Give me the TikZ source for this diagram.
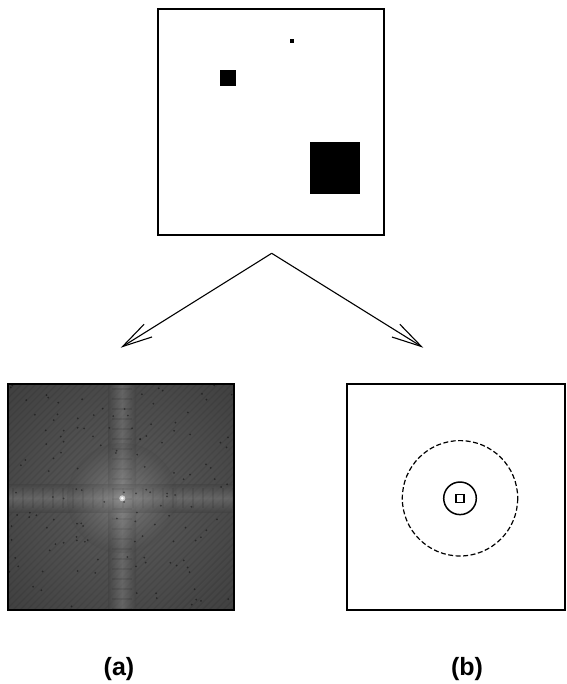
\documentclass[tikz,border=0pt]{standalone}
\usepackage{fontspec}
\setmainfont{Liberation Sans}
\usetikzlibrary{arrows.meta}
\definecolor{spbg}{RGB}{64,64,64}
\definecolor{spmid}{RGB}{92,92,92}
\definecolor{spband}{RGB}{128,128,128}
\tikzset{
  frame/.style={draw=black, line width=1.6pt, inner sep=0pt, fill=white},
  blk/.style={fill=black},
  splitarrow/.style={line width=1.1pt, -{Straight Barb[length=30pt,width=15pt,line width=1.1pt]}},
  lbl/.style={font=\bfseries\fontsize{25}{30}\selectfont, inner sep=0pt},
  ring/.style={line width=1.5pt},
  dashring/.style={line width=1.2pt, dash pattern=on 5pt off 2.5pt}
}
\begin{document}
\begin{tikzpicture}[x=1pt,y=-1pt]
\useasboundingbox (0,0) rectangle (566,684);
% original image
\node[frame, minimum width=226pt, minimum height=226pt] (orig) at (271,122) {};
\fill[blk] (290,39) rectangle (294,43);
\fill[blk] (220,70) rectangle (236,86);
\fill[blk] (310,142) rectangle (360,194);
% arrows
\coordinate (apex) at (271.7,253.3);
\coordinate (tipa) at (120.7,347.7);
\coordinate (tipb) at (423.3,347.7);
\draw[splitarrow] (apex) -- (tipa);
\draw[splitarrow] (apex) -- (tipb);
% spectrum (a)
\node[frame, fill=spbg, minimum width=226pt, minimum height=226pt] (spec) at (121,497) {};
\begin{scope}
\clip (8,384) rectangle (234,610);
\shade[inner color=spmid, outer color=spbg] (122,498) circle (160);
\foreach \k in {-240,-233,...,240}
  \draw[black, opacity=0.08, line width=1.4pt] (8+\k,610) -- ++(226,-226);
% vertical band
\shade[left color=spbg, right color=spbg, middle color=spband, opacity=0.5] (108,384) rectangle (136,610);
% horizontal band
\shade[top color=spbg, bottom color=spbg, middle color=spband, opacity=0.5] (8,484) rectangle (234,512);
\foreach \s in {389,399,...,609}
  \draw[black, opacity=0.09, line width=2pt] (112,\s) -- (132,\s);
\foreach \s in {13,23,...,233}
  \draw[black, opacity=0.09, line width=2pt] (\s,488) -- (\s,508);
\shade[inner color=white, outer color=spbg, opacity=0.2] (122,498) circle (55);
\pgfmathsetseed{11}
\foreach \i in {1,...,140} {
  \pgfmathsetmacro\rx{8+226*rnd}
  \pgfmathsetmacro\ry{384+226*rnd}
  \fill[black, opacity=0.45] (\rx,\ry) circle (1.0);
}
\fill[white, opacity=0.6] (122.3,498.3) circle (3);
\fill[white] (122.3,498.3) circle (1.4);
\end{scope}
\draw[line width=1.6pt] (8,384) rectangle (234,610);
% (b)
\node[frame, minimum width=218pt, minimum height=226pt] (res) at (456,497) {};
\draw[dashring] (460,498.3) circle (57.7);
\draw[ring] (460,498.3) circle (16.3);
\draw[ring] (456,494.3) rectangle (464,502.3);
% labels
\node[lbl] (la) at (119,669) {(a)};
\node[lbl] (lb) at (467,669) {(b)};
\end{tikzpicture}
\end{document}
